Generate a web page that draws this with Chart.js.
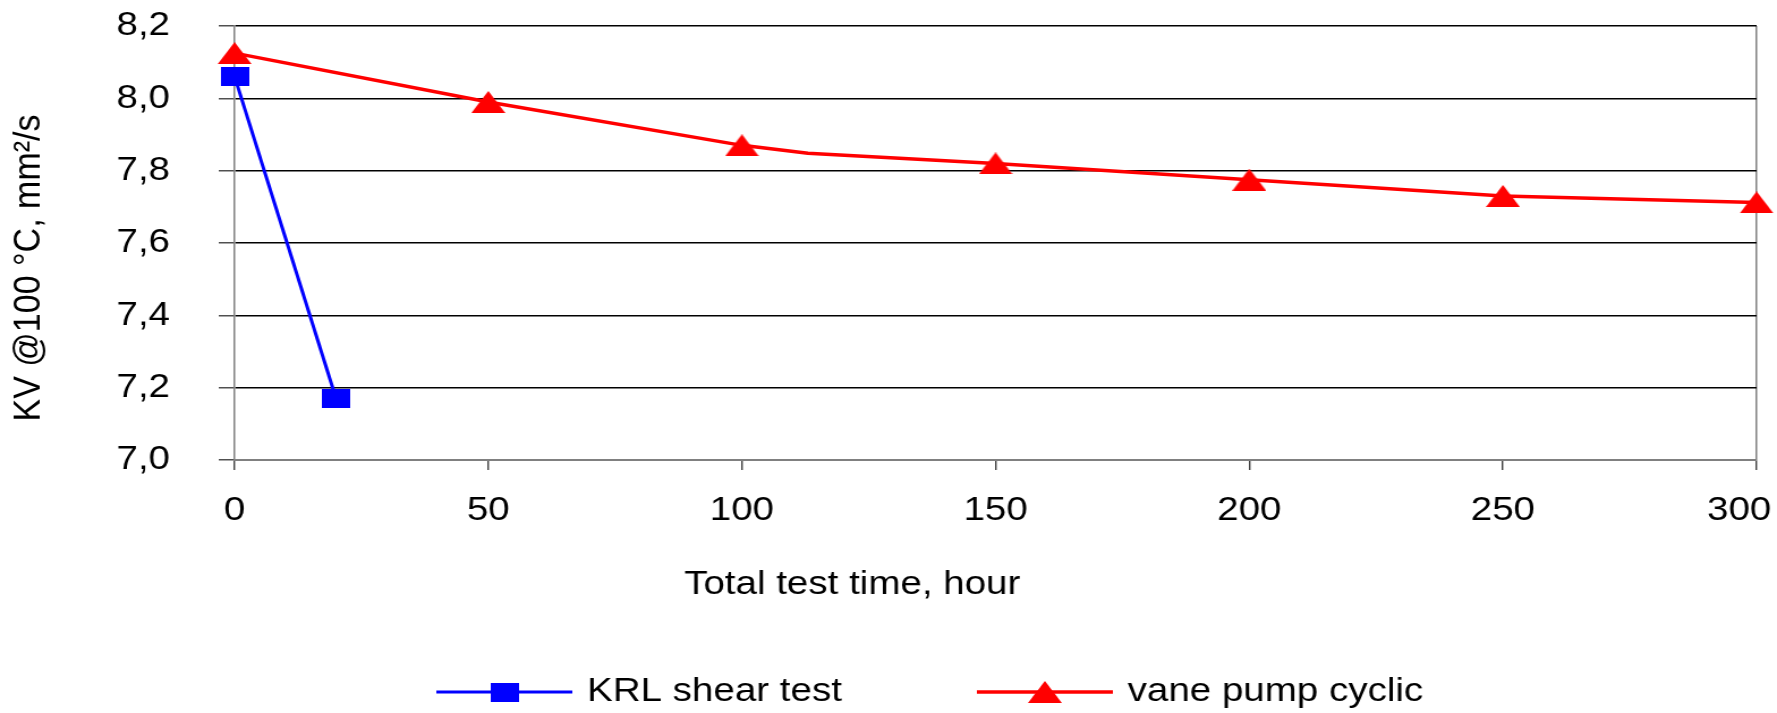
<!DOCTYPE html>
<html>
<head>
<meta charset="utf-8">
<title>KV @100 °C vs total test time</title>
<script src="https://cdn.jsdelivr.net/npm/chart.js@4.4.1/dist/chart.umd.min.js"></script>
<style>
  html, body { margin: 0; padding: 0; background: #fff; overflow: hidden; }
  canvas { display: block; }
</style>
</head>
<body>
<!-- drawn at 1568 wide, shown stretched to the page width -->
<canvas id="chart" width="1568" height="713" style="width:1777px;height:713px"></canvas>
<script>
// KRL shear test: two readings
const krlHours = [0, 20];
const krlKv = [8.06, 7.17];

// vane pump cyclic test; the 113 h reading is on the curve but has no marker
const vaneHours = [0, 50, 100, 113, 150, 200, 250, 300];
const vaneKv = [8.125, 7.99, 7.87, 7.848, 7.82, 7.775, 7.73, 7.712];
const vaneMarked = [true, true, true, false, true, true, true, true];

const seriesNames = ['KRL shear test', 'vane pump cyclic'];
const xTicks = [0, 50, 100, 150, 200, 250, 300];
const yTicks = [7.0, 7.2, 7.4, 7.6, 7.8, 8.0, 8.2];
const xTitle = 'Total test time, hour';
const yTitle = 'KV @100 °C, mm²/s';

const FONT = '"Liberation Sans", Arial, sans-serif';
Chart.defaults.font.family = FONT;
Chart.defaults.font.size = 34;
Chart.defaults.color = '#000';

function marker(kind, color) {
  const c = document.createElement('canvas');
  const ctx = c.getContext('2d');
  if (kind === 'triangle') {
    c.width = 30; c.height = 22;
    ctx.fillStyle = color;
    ctx.beginPath();
    ctx.moveTo(15, 0);
    ctx.lineTo(30, 22);
    ctx.lineTo(0, 22);
    ctx.closePath();
    ctx.fill();
  } else {
    c.width = 25; c.height = 19;
    ctx.fillStyle = color;
    ctx.fillRect(0, 0, 25, 19);
  }
  return c;
}

const squareMark = marker('square', '#0000ff');
const triMark = marker('triangle', '#ff0000');

const toPoints = (xs, ys) => xs.map((x, i) => ({ x: x, y: ys[i] }));

// hour labels, axis titles and the legend (line with marker, then the series name)
const chartText = {
  id: 'chartText',
  afterDraw(chart) {
    const ctx = chart.ctx;
    const xs = chart.scales.x;
    ctx.save();
    ctx.font = '34px ' + FONT;
    ctx.fillStyle = '#000';

    // hour labels under the tick marks; the last one is kept inside the canvas
    ctx.textAlign = 'center';
    ctx.textBaseline = 'top';
    xTicks.forEach(v => {
      const w = ctx.measureText(String(v)).width;
      const px = Math.min(xs.getPixelForValue(v), chart.width - 5 - w / 2);
      ctx.fillText(String(v), px, xs.top + 34);
    });

    ctx.textBaseline = 'middle';
    ctx.fillText(xTitle, 752, 585);

    ctx.save();
    ctx.translate(26, 268);
    ctx.rotate(-Math.PI / 2);
    ctx.fillText(yTitle, 0, 0);
    ctx.restore();

    const y = 692;
    ctx.textAlign = 'left';
    chart.data.datasets.forEach((ds, i) => {
      const x = 385 + i * 477;
      ctx.strokeStyle = ds.borderColor;
      ctx.lineWidth = ds.borderWidth;
      ctx.beginPath();
      ctx.moveTo(x, y);
      ctx.lineTo(x + 120, y);
      ctx.stroke();
      const img = ds.pointStyle;
      ctx.drawImage(img, x + 60 - img.width / 2, y - img.height / 2);
      ctx.fillText(ds.label, x + 133, y);
    });
    ctx.restore();
  }
};

new Chart(document.getElementById('chart'), {
  type: 'line',
  data: {
    datasets: [
      {
        label: seriesNames[0],
        data: toPoints(krlHours, krlKv),
        borderColor: '#0000ff',
        borderWidth: 3,
        pointStyle: squareMark,
        pointRadius: 10,
        tension: 0,
        clip: false
      },
      {
        label: seriesNames[1],
        data: toPoints(vaneHours, vaneKv),
        borderColor: '#ff0000',
        borderWidth: 3.5,
        pointStyle: triMark,
        pointRadius: vaneMarked.map(m => m ? 10 : 0),
        tension: 0,
        clip: false
      }
    ]
  },
  options: {
    responsive: false,
    animation: false,
    devicePixelRatio: 1,
    layout: { padding: { left: 0, right: 18, top: 26, bottom: 80 } },
    plugins: {
      legend: { display: false },
      tooltip: { enabled: false }
    },
    scales: {
      x: {
        type: 'linear',
        min: 0,
        max: 300,
        afterBuildTicks: s => { s.ticks = xTicks.map(v => ({ value: v })); },
        afterFit: s => {
          s.height = 173;
          s.paddingLeft = 0;
          s.paddingRight = 0;
        },
        grid: {
          // only the right-hand frame line is drawn across the plot
          color: c => (c.tick && c.tick.value === 300) ? '#808080' : 'rgba(0,0,0,0)',
          lineWidth: 1.5,
          tickLength: 10,
          tickColor: '#222',
          tickWidth: 1.2
        },
        border: { color: '#808080', width: 2 },
        ticks: { display: false },
        title: { display: false }
      },
      y: {
        min: 7,
        max: 8.2,
        afterBuildTicks: s => { s.ticks = yTicks.map(v => ({ value: v })); },
        afterFit: s => {
          s.width = 207;
          s.paddingTop = 0;
          s.paddingBottom = 0;
        },
        grid: {
          color: '#000',
          lineWidth: 1.5,
          tickLength: 14,
          tickColor: '#505050'
        },
        border: { color: '#808080', width: 1.5 },
        ticks: {
          padding: 43,
          callback: v => v.toFixed(1).replace('.', ',')
        },
        title: { display: false }
      }
    }
  },
  plugins: [chartText]
});
</script>
</body>
</html>
